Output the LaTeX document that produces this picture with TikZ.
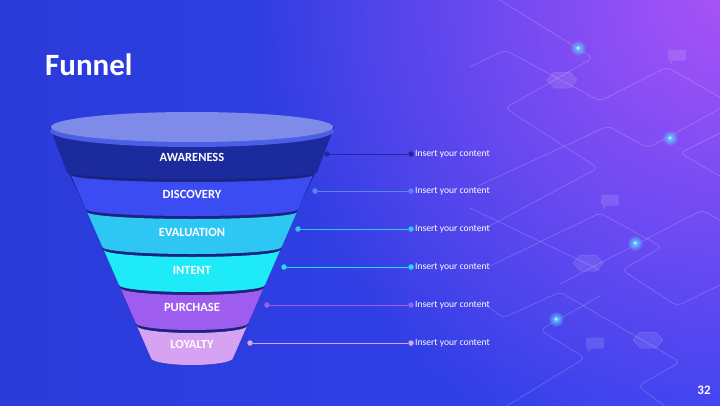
\documentclass[tikz,border=0pt]{standalone}
\usepackage{fontspec}
\setmainfont{Carlito}
\usepackage{tikz}
\usetikzlibrary{calc}
\usetikzlibrary{fadings}
\definecolor{bgleft}{HTML}{2A3BD9}
\definecolor{bgright}{HTML}{3443F0}
\definecolor{bgpurple}{HTML}{A853F7}
\definecolor{cglow}{HTML}{5FD8FF}
\definecolor{cnavy}{HTML}{1B2A9C}
\definecolor{cdisc}{HTML}{3A4CF2}
\definecolor{ceval}{HTML}{2EC7F3}
\definecolor{cint}{HTML}{1FEAF7}
\definecolor{cpur}{HTML}{9F5DF0}
\definecolor{cloy}{HTML}{D7A2F2}
\definecolor{crim}{HTML}{1A2380}
\definecolor{clid}{HTML}{7E8BE8}
\definecolor{clidrim}{HTML}{4A5EE6}
\definecolor{ldisc}{HTML}{5A86F5}
\definecolor{lint}{HTML}{25DDFA}
\tikzfading[name=glowfade, inner color=transparent!0, outer color=transparent!100]

\begin{document}
\begin{tikzpicture}[x=1pt,y=-1pt,
  dot/.style={circle,inner sep=0,minimum size=5.5pt},
  lbl/.style={white,font=\bfseries\fontsize{12.5}{12.5}\selectfont,inner sep=0},
  txt/.style={white,font=\fontsize{9.6}{9.6}\selectfont,inner sep=1pt},
  bgline/.style={white,opacity=.2,line width=.7pt,rounded corners=5pt},
  hexa/.style={fill=white,fill opacity=.1,draw=white,draw opacity=.15,line width=.5pt},
  tagbox/.style={fill=white,fill opacity=.12,rounded corners=1.5pt,minimum width=18pt,minimum height=11pt,inner sep=0}]
\useasboundingbox (0,0) rectangle (720,405);
\begin{scope}
\clip (0,0) rectangle (720,405);
\shade[left color=bgleft, right color=bgright] (0,0) rectangle (720,405);
\fill[bgpurple, path fading=glowfade] (720,0) circle (470pt);
\end{scope}

\draw[bgline] (495,-3) -- (593,58) -- (505,108) -- (598,168) -- (478,232);
\draw[bgline] (470,67) -- (505,50) -- (600,101) -- (667,67) -- (730,103);
\draw[bgline] (478,186) -- (608,126) -- (648,148) -- (730,103);
\draw[bgline] (730,128) -- (680,153) -- (730,182);
\draw[bgline] (490,266) -- (600,213) -- (662,247) -- (622,270) -- (677,306) -- (730,280);
\draw[bgline] (560,284) -- (702,210) -- (730,226);
\draw[bgline] (470,208) -- (600,270);
\draw[bgline] (480,300) -- (503,318) -- (560,292) -- (680,362) -- (638,386) -- (670,410);
\draw[bgline] (600,296) -- (540,330) -- (585,358) -- (500,410);
\foreach \p in {(562,80),(588,263),(648,340)} {
  \filldraw[hexa] \p ++(-15,0) -- ++(7,-8) -- ++(16,0) -- ++(7,8) -- ++(-7,8) -- ++(-16,0) -- cycle;
}
\foreach \p [count=\i] in {(677,55),(610,200),(595,343)} {
  \node[tagbox] (g\i) at \p {};
  \fill[white,opacity=.12] ($(g\i.south west)+(2,0)$) -- ++(0,4) -- ++(4,-4) -- cycle;
}
\foreach \p in {(578,48),(670,138),(635,243),(556,319)} {
  \fill[cglow, path fading=glowfade] \p circle (8pt);
  \fill[white!55!cglow] \p circle (1.6pt);
}

\node[white,font=\bfseries\fontsize{31}{31}\selectfont,inner sep=0,anchor=base west] (title) at (45,75) {Funnel};

\foreach \yr/\yt/\yb/\hwr/\hwt/\hwb/\col [count=\i] in {
  323/326/358/56.3/55/41/cloy,
  285/288/323/73/71.6/56.3/cpur,
  247/250/285/89.6/88.2/73/cint,
  209/212/247/106.2/104.9/89.6/ceval,
  171/175/209/124/121/106.2/cdisc,
  127/127/172/142/142/125/cnavy} {
  \fill[crim] ({192-\hwr},\yr) -- ({192-\hwb},\yb) arc[start angle=180,end angle=360,x radius=\hwb pt,y radius=7pt]
    -- ({192+\hwr},\yr) arc[start angle=0,end angle=-180,x radius=\hwr pt,y radius=7pt] -- cycle;
  \fill[\col] ({192-\hwt},\yt) -- ({192-\hwb},\yb) arc[start angle=180,end angle=360,x radius=\hwb pt,y radius=7pt]
    -- ({192+\hwt},\yt) arc[start angle=0,end angle=-180,x radius=\hwt pt,y radius=7pt] -- cycle;
}
\fill[clidrim] (192,131) ellipse[x radius=142pt,y radius=16pt];
\fill[clid] (192,127) ellipse[x radius=141pt,y radius=15pt];
\foreach \lab/\ly [count=\i] in {AWARENESS/157,DISCOVERY/194,EVALUATION/232,INTENT/270,PURCHASE/307,LOYALTY/344} {
  \node[lbl] (l\i) at (192,\ly) {\lab};
}

\foreach \y/\xa/\col [count=\i] in {154/327/cnavy,191/315/ldisc,229/298/ceval,267/284/lint,305/267/cpur,343/250/cloy} {
  \node[dot,fill=\col] (p\i) at (\xa,\y) {};
  \node[dot,fill=\col] (q\i) at (411,\y) {};
  \draw[\col,line width=.9pt] (p\i) -- (q\i);
  \node[txt,anchor=west] (t\i) at (q\i.east) {Insert your content};
}

\node[white,font=\bfseries\fontsize{13}{13}\selectfont,inner sep=0] (pnum) at (704,390) {32};
\end{tikzpicture}
\end{document}
